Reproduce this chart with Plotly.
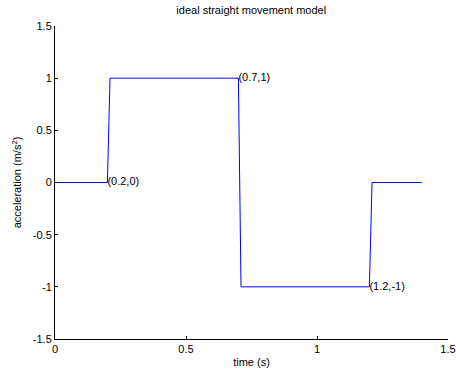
import plotly.graph_objects as go

time_s = [0, 0.2, 0.21, 0.7, 0.71, 1.2, 1.21, 1.4]
accel = [0, 0, 1, 1, -1, -1, 0, 0]
label_x = [0.2, 0.7, 1.2]
label_y = [0, 1, -1]
label_text = ["(0.2,0)", "(0.7,1)", "(1.2,-1)"]
x_ticks = [0, 0.5, 1, 1.5]
x_tick_text = ["0", "0.5", "1", "1.5"]
y_ticks = [-1.5, -1, -0.5, 0, 0.5, 1, 1.5]
y_tick_text = ["-1.5", "-1", "-0.5", "0", "0.5", "1", "1.5"]

fig = go.Figure()
fig.add_trace(go.Scatter(x=time_s, y=accel, mode="lines",
                         line=dict(color="#0000ff", width=1), showlegend=False))
fig.add_trace(go.Scatter(x=label_x, y=label_y, mode="text", text=label_text,
                         textposition="middle right",
                         textfont=dict(family="Liberation Sans, Arial", size=11, color="black"),
                         showlegend=False, cliponaxis=False))

fig.update_layout(
    width=456, height=374,
    margin=dict(l=55, r=8, t=26, b=35, autoexpand=False),
    paper_bgcolor="white", plot_bgcolor="white",
    font=dict(family="Liberation Sans, Arial", size=11, color="black"),
    title=dict(text="ideal straight movement model", x=0.551, xanchor="center",
               y=0.974, yanchor="middle", font=dict(size=11), automargin=False),
    xaxis=dict(range=[0, 1.5], tickvals=x_ticks, ticktext=x_tick_text,
               showgrid=False, zeroline=False, showline=True, linecolor="black",
               linewidth=1, ticks="inside", ticklen=3, tickcolor="black",
               automargin=False,
               title=dict(text="time (s)", standoff=4, font=dict(size=11))),
    yaxis=dict(range=[-1.5, 1.5], tickvals=y_ticks, ticktext=y_tick_text,
               showgrid=False, zeroline=False, showline=True, linecolor="black",
               linewidth=1, ticks="inside", ticklen=3, tickcolor="black",
               automargin=False,
               title=dict(text="acceleration (m/s<sup>2</sup>)", standoff=8,
                          font=dict(size=11))),
)

fig.write_html("out.html", config={"displayModeBar": False},
               post_script="document.body.style.margin='0';")
